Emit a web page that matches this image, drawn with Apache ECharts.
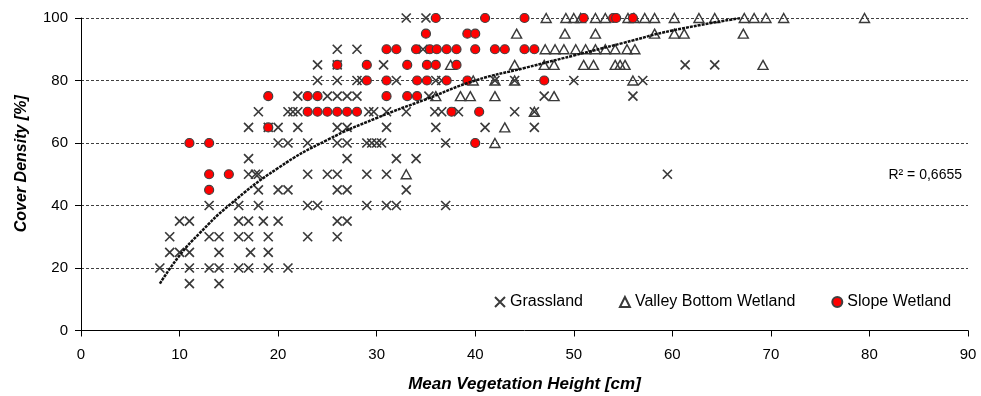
<!DOCTYPE html>
<html>
<head>
<meta charset="utf-8">
<script src="https://cdn.jsdelivr.net/npm/echarts@6/dist/echarts.min.js"></script>
<style>
  html, body { margin: 0; padding: 0; background: #fff; }
  #chart { width: 981px; height: 396px; }
</style>
</head>
<body>
<div id="chart"></div>
<script>
// Mean vegetation height [cm] vs. cover density [%] per wetland unit type
const grassland = [
  [8,20],[9,30],[9,25],[10,25],[11,25],[10,35],[11,35],[11,20],[11,15],
  [13,40],[13,30],[14,30],[13,20],[14,20],[14,25],[14,15],
  [16,40],[16,35],[17,35],[18.5,35],[20,35],[16,30],[17,30],[19,30],
  [16,20],[17,20],[19,20],[21,20],[17.2,25],[19,25],
  [18,40],[23,40],[24,40],[29,40],[31,40],[32,40],[37,40],
  [17,50],[17.7,50],[18,50],[23,50],[25,50],[26,50],[29,50],[31,50],
  [18,45],[20,45],[21,45],[26,45],[27,45],[33,45],
  [17,55],[27,55],[32,55],[34,55],
  [23,30],[26,30],[26,35],[27,35],
  [17,65],[19,65],[20,65],[22,65],[26,65],[27,65],[31,65],[36,65],[41,65],[46,65],
  [20,60],[21,60],[23,60],[26,60],[27,60],[29,60],[29.5,60],[30,60],[30.5,60],[37,60],
  [18,70],[21,70],[21.5,70],[22,70],[29.2,70],[29.7,70],[31,70],[33,70],
  [35.9,70],[36.6,70],[38.3,70],[44,70],[46,70],
  [22,75],[25,75],[26,75],[27,75],[28,75],[35.3,75],[47,75],[56,75],
  [24,80],[26,80],[28,80],[28.5,80],[32,80],[36,80],[36.6,80],[42,80],[44,80],[50,80],[57,80],
  [24,85],[26,85],[30.7,85],[61.3,85],[64.3,85],
  [26,90],[28,90],[34.7,90],
  [33,100],[35,100],
  [59.5,50]
];

const valleyBottom = [
  [33,50],[42,60],[43,65],[46,70],
  [36,75],[38.5,75],[39.5,75],[42,75],[48,75],
  [39.8,80],[42,80],[44,80],[56,80],
  [37.5,85],[44,85],[47,85],[48,85],[51,85],[52,85],[54.2,85],[54.7,85],[55.2,85],[69.2,85],
  [47.1,90],[48.1,90],[49,90],[50.2,90],[51.2,90],[52.2,90],[53.2,90],[54.2,90],[55.4,90],[56.2,90],
  [44.2,95],[49.1,95],[52.2,95],[58.2,95],[60.2,95],[61.2,95],[67.2,95],
  [47.2,100],[49.2,100],[50,100],[50.7,100],[52.2,100],[53.2,100],[55.5,100],[56.1,100],
  [57.2,100],[58.2,100],[60.2,100],[62.7,100],[64.3,100],[67.3,100],[68.3,100],[69.5,100],
  [71.3,100],[79.5,100]
];

const slope = [
  [11,60],[13,60],[13,50],[15,50],[13,45],
  [19,75],[23,75],[24,75],[19,65],
  [23,70],[24,70],[25,70],[26,70],[27,70],[28,70],
  [26,85],[29,85],[33.1,85],[35.1,85],[36,85],[38.1,85],
  [29,80],[31,80],[34.1,80],[35.1,80],[37.1,80],[39.2,80],[47,80],
  [31,90],[32,90],[34,90],[35.4,90],[36.1,90],[37.1,90],[38.1,90],[40,90],
  [42,90],[43,90],[45,90],[46,90],
  [35,95],[39.2,95],[40,95],
  [36,100],[41,100],[45,100],[51,100],[54,100],[54.3,100],[56,100],
  [31,75],[33.1,75],[34.1,75],
  [37.6,70],[40.4,70],
  [40,60]
];

// logarithmic trend curve, sampled along its course
const trend = [
  [8,15],[10,24],[12,31],[15,40],[20,52],[25,61],[30,68],[35,74],
  [40,80],[45,84],[50,88],[55,92],[60,96],[67,100]
];

const seriesNames = ['Grassland', 'Valley Bottom Wetland', 'Slope Wetland'];
const rSquaredText = 'R² = 0,6655';

const FONT = '"Liberation Sans", Arial, sans-serif';
const crossPath = 'path://M0,0L10,10M10,0L0,10';

const chart = echarts.init(document.getElementById('chart'), null, { renderer: 'canvas' });

chart.setOption({
  animation: false,
  backgroundColor: '#fff',
  textStyle: { fontFamily: FONT },
  grid: { left: 81, right: 13, top: 18, bottom: 65.5, containLabel: false, outerBoundsMode: 'none' },
  xAxis: {
    type: 'value', min: 0, max: 90, interval: 10,
    name: 'Mean Vegetation Height [cm]',
    nameLocation: 'middle', nameGap: 45,
    nameTextStyle: { fontFamily: FONT, fontSize: 17, fontWeight: 'bold', fontStyle: 'italic', color: '#000' },
    axisLine: { show: true, onZero: false, lineStyle: { color: '#000', width: 1 } },
    axisTick: { show: true, inside: false, length: 6, lineStyle: { color: '#000' } },
    axisLabel: { fontFamily: FONT, fontSize: 15, color: '#000', margin: 17 },
    splitLine: { show: false }
  },
  yAxis: {
    type: 'value', min: 0, max: 100, interval: 20,
    name: 'Cover Density [%]',
    nameLocation: 'middle', nameGap: 51, nameRotate: 90,
    nameTextStyle: { fontFamily: FONT, fontSize: 16, fontWeight: 'bold', fontStyle: 'italic', color: '#000', padding: [0, 0, 0, 21] },
    axisLine: { show: true, onZero: false, lineStyle: { color: '#000', width: 1 } },
    axisTick: { show: true, inside: false, length: 6, lineStyle: { color: '#000' } },
    axisLabel: { fontFamily: FONT, fontSize: 15, color: '#000', margin: 13 },
    splitLine: { show: true, lineStyle: { color: '#404040', width: 1, type: [3, 2] } }
  },
  legend: {
    left: 489, top: 289,
    itemWidth: 10, itemHeight: 10, itemGap: 36,
    textStyle: { fontFamily: FONT, fontSize: 16, color: '#000' },
    data: seriesNames
  },
  graphic: [{
    type: 'text',
    x: 962, y: 175,
    style: {
      text: rSquaredText,
      font: '14px ' + FONT,
      fill: '#000',
      align: 'right',
      verticalAlign: 'middle'
    }
  }],
  series: [
    {
      name: seriesNames[0], type: 'scatter', data: grassland,
      symbol: crossPath, symbolSize: 9,
      itemStyle: { color: 'rgba(0,0,0,0)', borderColor: '#3a3a3a', borderWidth: 1.7, opacity: 1 },
      emphasis: { disabled: true }
    },
    {
      name: seriesNames[1], type: 'scatter', data: valleyBottom,
      symbol: 'triangle', symbolSize: [10, 9],
      itemStyle: { color: 'rgba(0,0,0,0)', borderColor: '#3a3a3a', borderWidth: 1.4, opacity: 1 },
      emphasis: { disabled: true }
    },
    {
      name: seriesNames[2], type: 'scatter', data: slope,
      symbol: 'circle', symbolSize: 9,
      itemStyle: { color: '#ff0000', borderColor: '#404040', borderWidth: 1.2, opacity: 1 },
      emphasis: { disabled: true }
    },
    {
      name: 'trend', type: 'line', data: trend,
      smooth: true, showSymbol: false, symbol: 'none',
      lineStyle: { color: '#111', width: 2.5, type: [3, 1] },
      emphasis: { disabled: true },
      z: 5
    }
  ]
});
</script>
</body>
</html>
